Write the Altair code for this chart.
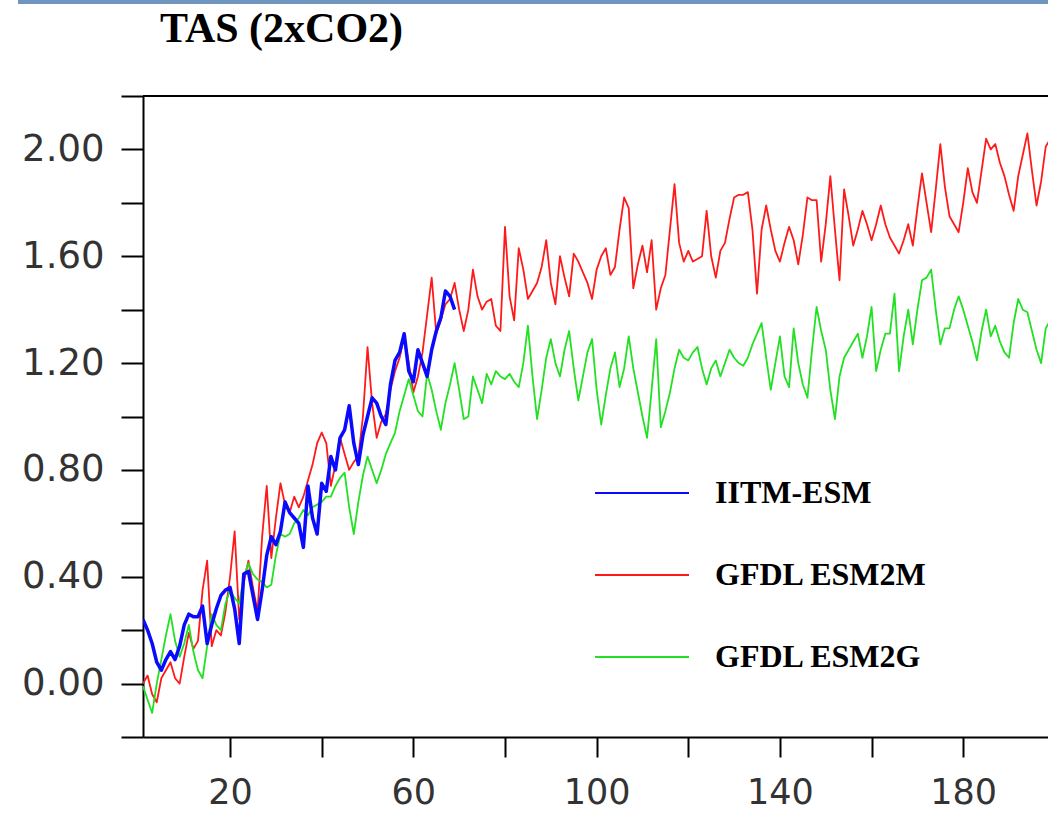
import altair as alt
import pandas as pd

models = ["IITM-ESM", "GFDL ESM2M", "GFDL ESM2G"]
colors = ["#0a0aff", "#ff1a1a", "#22e022"]

iitm = [0.24, 0.20, 0.15, 0.08, 0.05, 0.09, 0.12, 0.09, 0.14, 0.22,
        0.26, 0.25, 0.25, 0.29, 0.15, 0.22, 0.28, 0.33, 0.35, 0.36,
        0.28, 0.15, 0.41, 0.42, 0.33, 0.24, 0.35, 0.48, 0.55, 0.52,
        0.57, 0.68, 0.64, 0.62, 0.60, 0.51, 0.74, 0.62, 0.56, 0.75,
        0.72, 0.85, 0.80, 0.92, 0.95, 1.04, 0.90, 0.82, 0.93, 1.00,
        1.07, 1.05, 1.00, 0.97, 1.12, 1.21, 1.24, 1.31, 1.17, 1.13,
        1.25, 1.20, 1.15, 1.25, 1.32, 1.37, 1.47, 1.45, 1.40]

esm2m = [0.00, 0.03, -0.04, -0.07, 0.02, 0.05, 0.08, 0.02, 0.00, 0.10,
         0.19, 0.13, 0.16, 0.35, 0.46, 0.14, 0.20, 0.18, 0.27, 0.40,
         0.57, 0.24, 0.38, 0.46, 0.36, 0.27, 0.55, 0.74, 0.47, 0.62,
         0.75, 0.67, 0.64, 0.70, 0.66, 0.70, 0.76, 0.82, 0.90, 0.94,
         0.90, 0.74, 0.82, 0.92, 0.86, 0.80, 0.83, 0.85, 1.00, 1.26,
         1.05, 0.92, 0.98, 1.01, 1.10, 1.17, 1.22, 1.30, 1.20, 1.09,
         1.15, 1.24, 1.38, 1.52, 1.31, 1.36, 1.42, 1.44, 1.50, 1.40,
         1.32, 1.40, 1.55, 1.45, 1.40, 1.43, 1.44, 1.34, 1.32, 1.71,
         1.45, 1.36, 1.63, 1.55, 1.44, 1.47, 1.50, 1.56, 1.66, 1.50,
         1.42, 1.60, 1.52, 1.45, 1.61, 1.58, 1.54, 1.50, 1.44, 1.55,
         1.60, 1.63, 1.53, 1.56, 1.70, 1.82, 1.78, 1.48, 1.57, 1.64,
         1.54, 1.66, 1.40, 1.48, 1.53, 1.70, 1.87, 1.65, 1.58, 1.62,
         1.58, 1.59, 1.60, 1.77, 1.60, 1.52, 1.62, 1.65, 1.74, 1.82,
         1.83, 1.83, 1.84, 1.70, 1.46, 1.70, 1.79, 1.70, 1.62, 1.58,
         1.65, 1.71, 1.66, 1.57, 1.68, 1.82, 1.81, 1.81, 1.58, 1.72,
         1.90, 1.70, 1.51, 1.85, 1.75, 1.64, 1.70, 1.77, 1.72, 1.66,
         1.72, 1.79, 1.72, 1.67, 1.64, 1.61, 1.66, 1.72, 1.64, 1.78,
         1.91, 1.80, 1.69, 1.85, 2.02, 1.86, 1.75, 1.72, 1.69, 1.80,
         1.93, 1.84, 1.80, 1.92, 2.04, 2.00, 2.02, 1.95, 1.90, 1.83,
         1.77, 1.90, 1.98, 2.06, 1.92, 1.79, 1.88, 2.01, 2.04]

esm2g = [-0.01, -0.06, -0.11, 0.00, 0.09, 0.18, 0.26, 0.16, 0.10, 0.15,
         0.22, 0.12, 0.05, 0.02, 0.14, 0.26, 0.22, 0.20, 0.30, 0.35,
         0.32, 0.30, 0.40, 0.45, 0.41, 0.39, 0.38, 0.36, 0.37, 0.48,
         0.56, 0.55, 0.56, 0.60, 0.62, 0.65, 0.63, 0.66, 0.67, 0.68,
         0.70, 0.70, 0.74, 0.77, 0.79, 0.66, 0.56, 0.68, 0.78, 0.85,
         0.80, 0.75, 0.80, 0.86, 0.90, 0.94, 1.02, 1.08, 1.14, 1.08,
         1.02, 1.00, 1.16, 1.10, 1.02, 0.95, 1.05, 1.12, 1.20, 1.10,
         0.99, 1.00, 1.15, 1.10, 1.05, 1.16, 1.12, 1.17, 1.15, 1.14,
         1.16, 1.13, 1.11, 1.20, 1.34, 1.15, 0.99, 1.10, 1.22, 1.29,
         1.20, 1.15, 1.25, 1.32, 1.18, 1.06, 1.15, 1.24, 1.29, 1.10,
         0.97, 1.08, 1.18, 1.24, 1.11, 1.18, 1.30, 1.18, 1.09, 1.00,
         0.92, 1.10, 1.29, 0.96, 1.02, 1.09, 1.18, 1.25, 1.22, 1.21,
         1.24, 1.26, 1.18, 1.12, 1.18, 1.21, 1.15, 1.20, 1.25, 1.22,
         1.20, 1.19, 1.22, 1.27, 1.31, 1.35, 1.22, 1.10, 1.20, 1.30,
         1.15, 1.11, 1.33, 1.20, 1.12, 1.07, 1.25, 1.41, 1.32, 1.25,
         1.10, 0.99, 1.15, 1.22, 1.25, 1.28, 1.31, 1.22, 1.30, 1.41,
         1.17, 1.25, 1.31, 1.31, 1.46, 1.17, 1.30, 1.40, 1.27, 1.40,
         1.51, 1.52, 1.55, 1.40, 1.27, 1.33, 1.33, 1.40, 1.45, 1.40,
         1.34, 1.28, 1.21, 1.32, 1.40, 1.30, 1.34, 1.28, 1.24, 1.22,
         1.35, 1.44, 1.40, 1.39, 1.32, 1.25, 1.20, 1.33, 1.36]

x_ticks = [20, 40, 60, 80, 100, 120, 140, 160, 180]
y_ticks = [round(-0.2 + 0.2 * i, 1) for i in range(13)]

rows = []
for name, series in [("GFDL ESM2M", esm2m), ("GFDL ESM2G", esm2g), ("IITM-ESM", iitm)]:
    for i, v in enumerate(series):
        rows.append({"year": i + 1, "value": v, "model": name})
df = pd.DataFrame(rows)

x_scale = alt.Scale(domain=[1, 198.5], nice=False, zero=False)
y_scale = alt.Scale(domain=[-0.2, 2.2], nice=False, zero=False)
color_scale = alt.Scale(domain=models, range=colors)

x_axis = alt.Axis(values=x_ticks, title=None, grid=False,
                  labelExpr="(datum.value - 20) % 40 == 0 ? datum.label : ''",
                  format="d", tickSize=20, tickWidth=2, tickColor="black",
                  domainWidth=2, domainColor="black", labelFont="DejaVu Sans",
                  labelFontSize=35, labelColor="#333333", labelPadding=18,
                  labelFlush=False, labelOverlap=False)
y_axis = alt.Axis(values=y_ticks, title=None, grid=False,
                  labelExpr="abs(round(datum.value * 10)) % 4 == 0 ? format(datum.value, '.2f') : ''",
                  tickSize=22, tickWidth=2, tickColor="black",
                  domainWidth=2, domainColor="black", labelFont="DejaVu Sans",
                  labelFontSize=37, labelColor="#333333", labelPadding=17,
                  labelFlush=False, labelOverlap=False)

legend = alt.Legend(title=None, orient="none", legendX=451, legendY=357,
                    symbolType="stroke", symbolSize=94 * 94, symbolStrokeWidth=2,
                    labelFont="Liberation Serif", labelFontWeight="bold",
                    labelFontSize=32, labelColor="black", labelOffset=25,
                    labelLimit=400, clipHeight=80, rowPadding=2, padding=0)

def series_layer(name, width):
    return alt.Chart(df).transform_filter(alt.datum.model == name).mark_line(
        clip=True, strokeWidth=width, strokeJoin="round"
    ).encode(
        x=alt.X("year:Q", scale=x_scale, axis=x_axis),
        y=alt.Y("value:Q", scale=y_scale, axis=y_axis),
        color=alt.Color("model:N", scale=color_scale, legend=legend),
    )

one = pd.DataFrame({"k": [0]})
top_border = alt.Chart(one).mark_rule(color="black", strokeWidth=2).encode(
    x=alt.value(0), x2=alt.value(905), y=alt.value(0))
deco = alt.Chart(one).mark_rule(color="#7096c0", strokeWidth=4).encode(
    x=alt.value(-125), x2=alt.value(905), y=alt.value(-94))

chart = alt.layer(
    deco,
    top_border,
    series_layer("GFDL ESM2M", 1.8),
    series_layer("GFDL ESM2G", 1.8),
    series_layer("IITM-ESM", 3.5),
).properties(
    width=905, height=641,
    title=alt.TitleParams("TAS (2xCO2)", anchor="start", frame="group",
                          font="Liberation Serif", fontSize=42, fontWeight="bold",
                          color="black", dx=17, offset=-84, baseline="alphabetic"),
    autosize=alt.AutoSizeParams(type="none"),
    padding={"left": 143, "top": 96, "right": 0, "bottom": 76},
).configure_view(stroke=None).configure(background="white")

chart.save("out.html", embed_options={"renderer": "svg", "actions": False})
